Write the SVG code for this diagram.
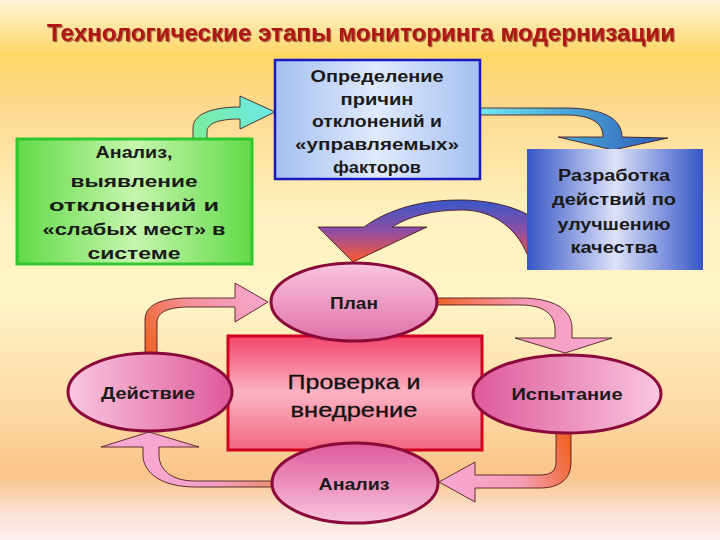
<svg xmlns="http://www.w3.org/2000/svg" width="720" height="540" viewBox="0 0 720 540">
<defs>
<linearGradient id="bg" x1="0" y1="0" x2="0" y2="1">
<stop offset="0" stop-color="#FFF6DC"/>
<stop offset="0.05" stop-color="#FFE6A0"/>
<stop offset="0.1" stop-color="#FFD766"/>
<stop offset="0.2" stop-color="#FDD990"/>
<stop offset="0.4" stop-color="#FFF2C0"/>
<stop offset="0.56" stop-color="#FFF4C6"/>
<stop offset="0.75" stop-color="#FDDBA6"/>
<stop offset="0.88" stop-color="#F9C58A"/>
<stop offset="0.95" stop-color="#FBE2D4"/>
<stop offset="1" stop-color="#FDF0F0"/>
</linearGradient>
<linearGradient id="gGreen" x1="0" y1="0" x2="1" y2="0">
<stop offset="0" stop-color="#62DA48"/>
<stop offset="0.5" stop-color="#C6F6AE"/>
<stop offset="1" stop-color="#62DA48"/>
</linearGradient>
<linearGradient id="gBlue1" x1="0" y1="0" x2="1" y2="0">
<stop offset="0" stop-color="#A4C0F0"/>
<stop offset="0.5" stop-color="#E0EAFC"/>
<stop offset="1" stop-color="#A4C0F0"/>
</linearGradient>
<linearGradient id="gBlue2" x1="0" y1="0" x2="1" y2="0">
<stop offset="0" stop-color="#3656C6"/>
<stop offset="0.5" stop-color="#DCE2F8"/>
<stop offset="1" stop-color="#3656C6"/>
</linearGradient>
<linearGradient id="gRect" x1="0" y1="0" x2="0" y2="1">
<stop offset="0" stop-color="#F2466C"/>
<stop offset="0.5" stop-color="#FBB4C4"/>
<stop offset="1" stop-color="#F2667F"/>
</linearGradient>
<linearGradient id="gEllLR" x1="0" y1="0" x2="1" y2="0">
<stop offset="0" stop-color="#F9C6E0"/>
<stop offset="1" stop-color="#DE5A9A"/>
</linearGradient>
<linearGradient id="gEllRL" x1="1" y1="0" x2="0" y2="0">
<stop offset="0" stop-color="#F9C6E0"/>
<stop offset="1" stop-color="#DE5A9A"/>
</linearGradient>
<linearGradient id="gEllTB" x1="0" y1="0" x2="0" y2="1">
<stop offset="0" stop-color="#F9C6E0"/>
<stop offset="1" stop-color="#E070A8"/>
</linearGradient>
<linearGradient id="gEllBT" x1="0" y1="1" x2="0" y2="0">
<stop offset="0" stop-color="#F9C6E0"/>
<stop offset="1" stop-color="#DE5A9A"/>
</linearGradient>
<linearGradient id="aGreen" gradientUnits="userSpaceOnUse" x1="193" y1="139" x2="275" y2="100">
<stop offset="0" stop-color="#7CEE98"/>
<stop offset="1" stop-color="#6AE8EC"/>
</linearGradient>
<linearGradient id="aBlue" gradientUnits="userSpaceOnUse" x1="480" y1="110" x2="668" y2="140">
<stop offset="0" stop-color="#72E8F2"/>
<stop offset="0.45" stop-color="#4AA8D8"/>
<stop offset="1" stop-color="#2E5AB8"/>
</linearGradient>
<linearGradient id="aBig" gradientUnits="userSpaceOnUse" x1="0" y1="200" x2="0" y2="262">
<stop offset="0" stop-color="#3858C8"/>
<stop offset="0.5" stop-color="#8E4EA4"/>
<stop offset="1" stop-color="#FF5A2E"/>
</linearGradient>
<linearGradient id="aA" gradientUnits="userSpaceOnUse" x1="151" y1="355" x2="268" y2="295">
<stop offset="0" stop-color="#F06428"/>
<stop offset="0.45" stop-color="#F3929C"/>
<stop offset="1" stop-color="#F7A8D2"/>
</linearGradient>
<linearGradient id="aB" gradientUnits="userSpaceOnUse" x1="437" y1="300" x2="600" y2="350">
<stop offset="0" stop-color="#F06428"/>
<stop offset="0.5" stop-color="#F49AB8"/>
<stop offset="1" stop-color="#F7A8D2"/>
</linearGradient>
<linearGradient id="aC" gradientUnits="userSpaceOnUse" x1="563" y1="432" x2="440" y2="482">
<stop offset="0" stop-color="#F06428"/>
<stop offset="0.45" stop-color="#F4A0B8"/>
<stop offset="1" stop-color="#F7A8D2"/>
</linearGradient>
<linearGradient id="aD" gradientUnits="userSpaceOnUse" x1="272" y1="484" x2="150" y2="432">
<stop offset="0" stop-color="#EC9074"/>
<stop offset="0.4" stop-color="#F4A0C4"/>
<stop offset="1" stop-color="#F7A8D2"/>
</linearGradient>
<filter id="tsh" x="-5%" y="-30%" width="110%" height="160%">
<feDropShadow dx="1.2" dy="1.2" stdDeviation="0.6" flood-color="#4A0000" flood-opacity="0.55"/>
</filter>
</defs>
<style>
.t{font-family:"Liberation Sans",Arial,sans-serif;font-weight:bold;font-size:16px;fill:#1A1A1A;text-anchor:middle}
.e{font-family:"Liberation Sans",Arial,sans-serif;font-weight:bold;font-size:16px;fill:#1A1A1A;text-anchor:middle}
.c{font-family:"Liberation Sans",Arial,sans-serif;font-size:21px;fill:#111111;text-anchor:middle;stroke:#111111;stroke-width:0.3}
.ell{stroke:#8A0A3A;stroke-width:3}
.arr{stroke:#3A0A10;stroke-width:0.8;stroke-linejoin:miter}
</style>
<rect x="0" y="0" width="720" height="540" fill="url(#bg)"/>
<text id="title" x="47" y="41" font-family="'Liberation Sans',Arial,sans-serif" font-weight="bold" font-size="23" fill="#B01414" textLength="628" lengthAdjust="spacingAndGlyphs" filter="url(#tsh)">Технологические этапы мониторинга модернизации</text>

<g id="connectors">
<path class="arr" fill="url(#aGreen)" d="M193,139 L193,128 C193,115 210,107 240,107 L240,96 L275,112 L240,129 L240,119 C222,119 207,122 207,132 L207,139 Z"/>
<path class="arr" fill="url(#aBlue)" d="M480,108 L565,108 C602,108 622,118 622,137 L668,138 L613,150 L558,137 L603,137 C603,123 592,115 565,115 L480,115 Z"/>
<path class="arr" fill="url(#aBig)" d="M353,262 L318,227 L364,227 C392,207 425,200 460,200 C490,200 515,207 530,216 L530,254 L527,254 C517,230 495,210 462,210 C432,210 410,216 392,227 L427,227 Z"/>
<path class="arr" fill="url(#aA)" d="M145,356 L145,320 C145,305 160,298 190,298 L235,298 L235,283 L268,302 L235,322 L235,307 L190,307 C166,307 157,313 157,323 L157,356 Z"/>
<path class="arr" fill="url(#aB)" d="M436,298 L520,298 C555,298 572,310 572,328 L572,338 L612,338 L565,353 L515,338 L555,338 L555,330 C555,315 545,305 520,305 L436,305 Z"/>
<path class="arr" fill="url(#aC)" d="M571,430 L571,462 C571,479 560,488 540,488 L475,488 L475,502 L439,482 L475,462 L475,475 L540,475 C551,475 556,471 556,462 L556,430 Z"/>
<path class="arr" fill="url(#aD)" d="M274,487 L195,487 C162,487 143,473 143,455 L143,447 L101,447 L149,432 L199,447 L159,447 L159,455 C159,470 172,481 195,481 L274,481 Z"/>
</g>

<g id="node-analysis-box">
<rect x="17" y="139" width="235" height="125" fill="url(#gGreen)" stroke="#2EC82E" stroke-width="3"/>
<text class="t" x="134" y="158" textLength="77" lengthAdjust="spacingAndGlyphs">Анализ,</text>
<text class="t" x="134" y="187" textLength="127" lengthAdjust="spacingAndGlyphs">выявление</text>
<text class="t" x="134" y="211" textLength="170" lengthAdjust="spacingAndGlyphs">отклонений и</text>
<text class="t" x="134" y="235" textLength="183" lengthAdjust="spacingAndGlyphs">«слабых мест» в</text>
<text class="t" x="134" y="259" textLength="93" lengthAdjust="spacingAndGlyphs">системе</text>
</g>

<g id="node-causes">
<rect x="275" y="60" width="205" height="119" fill="url(#gBlue1)" stroke="#1818C0" stroke-width="2.5"/>
<text class="t" x="377" y="82" textLength="133" lengthAdjust="spacingAndGlyphs">Определение</text>
<text class="t" x="377" y="105" textLength="73" lengthAdjust="spacingAndGlyphs">причин</text>
<text class="t" x="377" y="127" textLength="130" lengthAdjust="spacingAndGlyphs">отклонений и</text>
<text class="t" x="377" y="150" textLength="164" lengthAdjust="spacingAndGlyphs">«управляемых»</text>
<text class="t" x="377" y="173" textLength="88" lengthAdjust="spacingAndGlyphs">факторов</text>
</g>

<g id="node-actions">
<rect x="527" y="149" width="176" height="121" fill="url(#gBlue2)"/>
<text class="t" x="614" y="181" textLength="112" lengthAdjust="spacingAndGlyphs">Разработка</text>
<text class="t" x="614" y="205" textLength="124" lengthAdjust="spacingAndGlyphs">действий по</text>
<text class="t" x="614" y="230" textLength="113" lengthAdjust="spacingAndGlyphs">улучшению</text>
<text class="t" x="614" y="253" textLength="87" lengthAdjust="spacingAndGlyphs">качества</text>
</g>

<g id="node-check">
<rect x="228" y="336" width="254" height="114" fill="url(#gRect)" stroke="#D00020" stroke-width="3"/>
<text class="c" x="354" y="389" textLength="133" lengthAdjust="spacingAndGlyphs">Проверка и</text>
<text class="c" x="354" y="417" textLength="127" lengthAdjust="spacingAndGlyphs">внедрение</text>
</g>

<g id="node-plan">
<ellipse class="ell" cx="354" cy="302" rx="83" ry="39" fill="url(#gEllTB)"/>
<text class="e" x="354" y="309" textLength="48" lengthAdjust="spacingAndGlyphs">План</text>
</g>

<g id="node-action">
<ellipse class="ell" cx="150" cy="392" rx="82" ry="39" fill="url(#gEllLR)"/>
<text class="e" x="148" y="399" textLength="94" lengthAdjust="spacingAndGlyphs">Действие</text>
</g>

<g id="node-test">
<ellipse class="ell" cx="567" cy="394" rx="94" ry="39" fill="url(#gEllRL)"/>
<text class="e" x="567" y="400" textLength="111" lengthAdjust="spacingAndGlyphs">Испытание</text>
</g>

<g id="node-analysis">
<ellipse class="ell" cx="355" cy="483" rx="83" ry="40" fill="url(#gEllBT)"/>
<text class="e" x="354" y="490" textLength="71" lengthAdjust="spacingAndGlyphs">Анализ</text>
</g>
</svg>
